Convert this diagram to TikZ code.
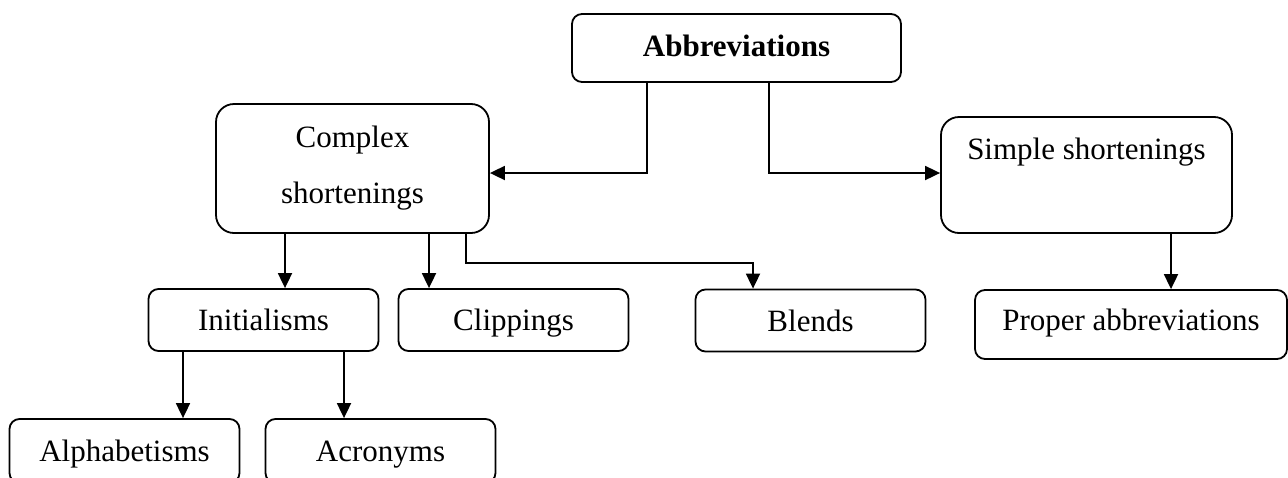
\documentclass[tikz,border=0pt]{standalone}
\usepackage{fontspec}
\setmainfont{Liberation Serif}
\usetikzlibrary{positioning, arrows.meta}
\tikzset{
box/.style={draw, rounded corners=5pt, line width=0.9pt, align=center, inner sep=0, font=\fontsize{15.5pt}{28pt}\selectfont, minimum width=115pt, minimum height=31pt}, leaf/.style={box, text height=12pt, text depth=1.5pt}, bigbox/.style={box, rounded corners=9pt}, link/.style={line width=0.9pt, -{Triangle[length=7.5pt, width=7pt]}}}
\begin{document}
\begin{tikzpicture}[x=0.5pt, y=-0.5pt]
\useasboundingbox (0,0) rectangle (1288,477);
\node [leaf, text depth=4pt, minimum width=164.5pt, minimum height=34pt] (abbr) at (736.5,48) {\textbf{Abbreviations}};
\node [bigbox, minimum width=136.5pt, minimum height=64.5pt] (complex) at (352.5,168.5) {Complex\\shortenings};
\node [bigbox, minimum width=145.5pt, minimum height=58pt] (simple) at (1086.5,175) {Simple shortenings\\[-2pt]\mbox{}};
\node [leaf] (init) at (263.5,320) {Initialisms};
\node [leaf, right=9.1pt of init] (clip) {Clippings};
\node [leaf] (blends) at (810.5,320.5) {Blends};
\node [leaf, text depth=6.5pt, minimum width=156pt, minimum height=34.5pt] (proper) at (1131,324.5) {Proper abbreviations};
\node [leaf, minimum height=32pt] (alpha) at (124.5,451) {Alphabetisms};
\node [leaf, minimum height=32pt, right=12.1pt of alpha] (acro) {Acronyms};
\draw [link] ([xshift=-44.75pt]abbr.south) |- ([yshift=-2.25pt]complex.east);
\draw [link] ([xshift=16.25pt]abbr.south) |- ([yshift=1pt]simple.west);
\draw [link] ([xshift=-33.75pt]complex.south) -- ([xshift=10.75pt]init.north);
\draw [link] ([xshift=38.25pt]complex.south) -- ([xshift=-42.25pt]clip.north);
\draw [link] ([xshift=56.75pt]complex.south) -- ++(0,29) -| ([xshift=-28.75pt]blends.north);
\draw [link] ([xshift=42.25pt]simple.south) -- ([xshift=20pt]proper.north);
\draw [link] ([xshift=-40.25pt]init.south) -- ([xshift=29.25pt]alpha.north);
\draw [link] ([xshift=40.25pt]init.south) -- ([xshift=-18.25pt]acro.north);
\end{tikzpicture}
\end{document}
